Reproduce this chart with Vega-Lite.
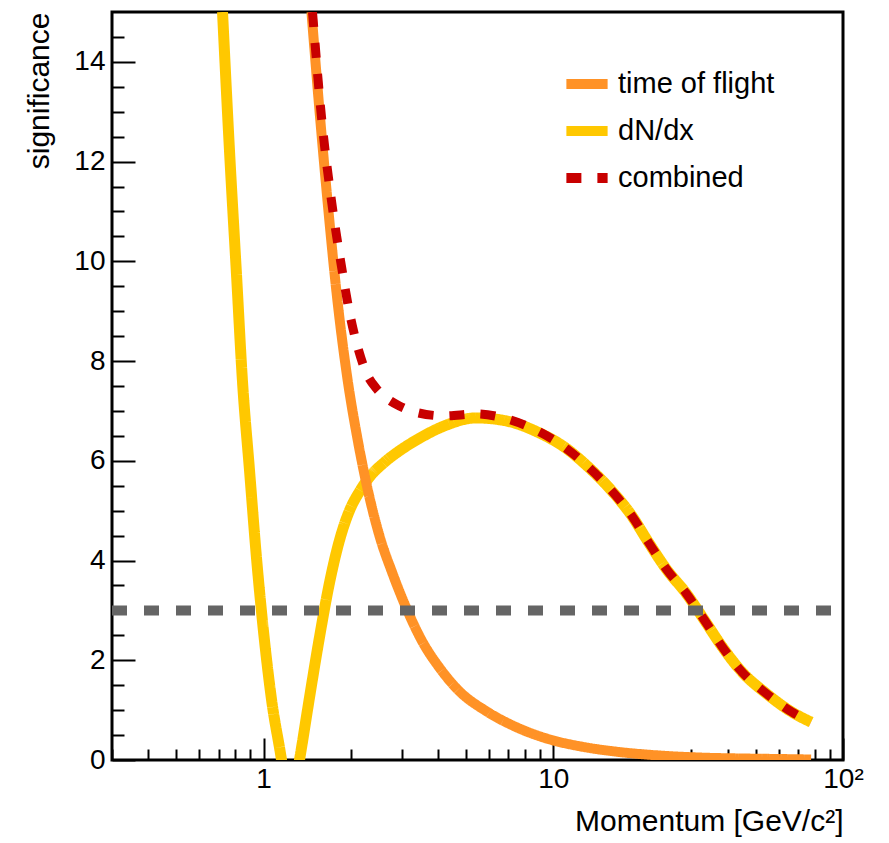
{
  "$schema": "https://vega.github.io/schema/vega-lite/v6.json",
  "width": 731,
  "height": 748,
  "autosize": {"type": "none"},
  "padding": {"left": 112, "top": 12, "right": 46, "bottom": 83},
  "background": "white",
  "config": {
    "view": {"stroke": "#000000", "strokeWidth": 3},
    "font": "Liberation Sans",
    "axis": {
      "domain": false, "grid": false, "tickColor": "#000000", "tickWidth": 2,
      "labelColor": "#000000", "titleColor": "#000000",
      "labelFont": "Liberation Sans", "titleFont": "Liberation Sans",
      "labelFontSize": 28, "titleFontSize": 30, "titleFontWeight": "normal",
      "labelOverlap": false, "labelFlush": false, "labelBound": false
    },
    "legend": {
      "orient": "none", "legendX": 449, "legendY": 46, "padding": 0,
      "symbolType": "stroke", "symbolSize": 1700, "symbolStrokeWidth": 10,
      "labelFont": "Liberation Sans", "labelFontSize": 29, "labelColor": "#000000",
      "labelOffset": 5, "rowPadding": 1, "title": null
    }
  },
  "datasets": {
    "tof": [
      {"p": 1.464, "s": 15, "series": "time of flight"},
      {"p": 1.559, "s": 13.05, "series": "time of flight"},
      {"p": 1.662, "s": 11.23, "series": "time of flight"},
      {"p": 1.799, "s": 9.22, "series": "time of flight"},
      {"p": 1.948, "s": 7.65, "series": "time of flight"},
      {"p": 2.109, "s": 6.45, "series": "time of flight"},
      {"p": 2.284, "s": 5.45, "series": "time of flight"},
      {"p": 2.512, "s": 4.5, "series": "time of flight"},
      {"p": 2.784, "s": 3.75, "series": "time of flight"},
      {"p": 3.137, "s": 3.0, "series": "time of flight"},
      {"p": 3.53, "s": 2.38, "series": "time of flight"},
      {"p": 4.05, "s": 1.85, "series": "time of flight"},
      {"p": 4.74, "s": 1.38, "series": "time of flight"},
      {"p": 5.87, "s": 0.98, "series": "time of flight"},
      {"p": 7.45, "s": 0.66, "series": "time of flight"},
      {"p": 9.9, "s": 0.4, "series": "time of flight"},
      {"p": 12.5, "s": 0.27, "series": "time of flight"},
      {"p": 16.9, "s": 0.16, "series": "time of flight"},
      {"p": 22, "s": 0.1, "series": "time of flight"},
      {"p": 31.8, "s": 0.05, "series": "time of flight"},
      {"p": 45, "s": 0.03, "series": "time of flight"},
      {"p": 60, "s": 0.02, "series": "time of flight"},
      {"p": 77.6, "s": 0.01, "series": "time of flight"}
    ],
    "dndx": [
      {"p": 0.722, "s": 15, "series": "dN/dx"},
      {"p": 0.763, "s": 12.23, "series": "dN/dx"},
      {"p": 0.807, "s": 9.73, "series": "dN/dx"},
      {"p": 0.846, "s": 7.6, "series": "dN/dx"},
      {"p": 0.895, "s": 5.8, "series": "dN/dx"},
      {"p": 0.946, "s": 4.05, "series": "dN/dx"},
      {"p": 1.0, "s": 2.58, "series": "dN/dx"},
      {"p": 1.066, "s": 1.21, "series": "dN/dx"},
      {"p": 1.154, "s": 0, "series": "dN/dx"},
      {"p": 1.229, "s": -1.1, "series": "dN/dx"},
      {"p": 1.331, "s": 0, "series": "dN/dx"},
      {"p": 1.441, "s": 1.25, "series": "dN/dx"},
      {"p": 1.559, "s": 2.45, "series": "dN/dx"},
      {"p": 1.689, "s": 3.55, "series": "dN/dx"},
      {"p": 1.828, "s": 4.4, "series": "dN/dx"},
      {"p": 1.98, "s": 5.0, "series": "dN/dx"},
      {"p": 2.143, "s": 5.38, "series": "dN/dx"},
      {"p": 2.318, "s": 5.67, "series": "dN/dx"},
      {"p": 2.614, "s": 5.97, "series": "dN/dx"},
      {"p": 2.945, "s": 6.2, "series": "dN/dx"},
      {"p": 3.45, "s": 6.45, "series": "dN/dx"},
      {"p": 4.21, "s": 6.7, "series": "dN/dx"},
      {"p": 5.42, "s": 6.86, "series": "dN/dx"},
      {"p": 6.88, "s": 6.8, "series": "dN/dx"},
      {"p": 8.95, "s": 6.56, "series": "dN/dx"},
      {"p": 10.9, "s": 6.28, "series": "dN/dx"},
      {"p": 13.3, "s": 5.86, "series": "dN/dx"},
      {"p": 15.85, "s": 5.41, "series": "dN/dx"},
      {"p": 18.6, "s": 4.91, "series": "dN/dx"},
      {"p": 21.4, "s": 4.35, "series": "dN/dx"},
      {"p": 24.7, "s": 3.81, "series": "dN/dx"},
      {"p": 28.7, "s": 3.35, "series": "dN/dx"},
      {"p": 33.2, "s": 2.81, "series": "dN/dx"},
      {"p": 38.3, "s": 2.27, "series": "dN/dx"},
      {"p": 44.9, "s": 1.76, "series": "dN/dx"},
      {"p": 54.2, "s": 1.34, "series": "dN/dx"},
      {"p": 66.7, "s": 0.96, "series": "dN/dx"},
      {"p": 77.6, "s": 0.76, "series": "dN/dx"}
    ],
    "comb": [
      {"p": 1.476, "s": 15, "series": "combined"},
      {"p": 1.585, "s": 12.9, "series": "combined"},
      {"p": 1.715, "s": 11.23, "series": "combined"},
      {"p": 1.858, "s": 9.9, "series": "combined"},
      {"p": 1.98, "s": 8.98, "series": "combined"},
      {"p": 2.109, "s": 8.3, "series": "combined"},
      {"p": 2.265, "s": 7.76, "series": "combined"},
      {"p": 2.453, "s": 7.45, "series": "combined"},
      {"p": 2.655, "s": 7.26, "series": "combined"},
      {"p": 2.945, "s": 7.1, "series": "combined"},
      {"p": 3.315, "s": 6.98, "series": "combined"},
      {"p": 4.21, "s": 6.9, "series": "combined"},
      {"p": 5.42, "s": 6.94, "series": "combined"},
      {"p": 6.93, "s": 6.84, "series": "combined"},
      {"p": 8.82, "s": 6.6, "series": "combined"},
      {"p": 10.9, "s": 6.28, "series": "combined"},
      {"p": 13.3, "s": 5.86, "series": "combined"},
      {"p": 15.85, "s": 5.41, "series": "combined"},
      {"p": 18.6, "s": 4.91, "series": "combined"},
      {"p": 21.4, "s": 4.35, "series": "combined"},
      {"p": 24.7, "s": 3.81, "series": "combined"},
      {"p": 28.7, "s": 3.35, "series": "combined"},
      {"p": 33.2, "s": 2.81, "series": "combined"},
      {"p": 38.3, "s": 2.27, "series": "combined"},
      {"p": 44.9, "s": 1.76, "series": "combined"},
      {"p": 54.2, "s": 1.34, "series": "combined"},
      {"p": 66.7, "s": 0.96, "series": "combined"},
      {"p": 77.6, "s": 0.76, "series": "combined"}
    ],
    "thr": [
      {"p": 0.3, "s": 3},
      {"p": 100, "s": 3}
    ]
  },
  "encoding": {
    "x": {
      "field": "p", "type": "quantitative",
      "scale": {"type": "log", "domain": [0.3, 100], "nice": false, "zero": false},
      "axis": {
        "values": [0.3, 0.4, 0.5, 0.6, 0.7, 0.8, 0.9, 1, 2, 3, 4, 5, 6, 7, 8, 9, 10, 20, 30, 40, 50, 60, 70, 80, 90, 100],
        "labelExpr": "datum.value === 1 ? '1' : datum.value === 10 ? '10' : datum.value === 100 ? '10²' : ''",
        "tickSize": {"condition": {"test": "datum.value === 1 || datum.value === 10 || datum.value === 100", "value": -22}, "value": -11},
        "labelPadding": 27,
        "title": "Momentum [GeV/c²]",
        "titleAnchor": "end",
        "titleBaseline": "alphabetic",
        "titleY": 70
      }
    },
    "y": {
      "field": "s", "type": "quantitative",
      "scale": {"domain": [0, 15], "nice": false, "zero": false},
      "axis": {
        "values": [0, 0.5, 1, 1.5, 2, 2.5, 3, 3.5, 4, 4.5, 5, 5.5, 6, 6.5, 7, 7.5, 8, 8.5, 9, 9.5, 10, 10.5, 11, 11.5, 12, 12.5, 13, 13.5, 14, 14.5],
        "labelExpr": "datum.value % 2 === 0 ? format(datum.value, 'd') : ''",
        "tickSize": {"condition": {"test": "datum.value % 2 === 0", "value": -23}, "value": -12},
        "labelPadding": 30,
        "title": "significance",
        "titleAnchor": "end",
        "titleX": -64,
        "titleBaseline": "alphabetic"
      }
    }
  },
  "layer": [
    {
      "data": {"name": "dndx"},
      "mark": {"type": "line", "clip": true, "strokeWidth": 11, "interpolate": "monotone", "strokeCap": "butt"},
      "encoding": {
        "color": {"field": "series", "type": "nominal", "scale": {"domain": ["time of flight", "dN/dx", "combined"], "range": ["#FF9226", "#FFC800", "#C80000"]}},
        "strokeDash": {"field": "series", "type": "nominal", "scale": {"domain": ["time of flight", "dN/dx", "combined"], "range": [[1, 0], [1, 0], [15, 16]]}}
      }
    },
    {
      "data": {"name": "tof"},
      "mark": {"type": "line", "clip": true, "strokeWidth": 10, "interpolate": "monotone", "strokeCap": "butt"},
      "encoding": {
        "color": {"field": "series", "type": "nominal"},
        "strokeDash": {"field": "series", "type": "nominal"}
      }
    },
    {
      "data": {"name": "comb"},
      "mark": {"type": "line", "clip": true, "strokeWidth": 9, "interpolate": "monotone", "strokeCap": "butt"},
      "encoding": {
        "color": {"field": "series", "type": "nominal"},
        "strokeDash": {"field": "series", "type": "nominal"}
      }
    },
    {
      "data": {"name": "thr"},
      "mark": {"type": "line", "clip": true, "strokeWidth": 10, "color": "#656565", "strokeDash": [15, 17], "strokeCap": "butt"},
      "encoding": {}
    }
  ]
}
